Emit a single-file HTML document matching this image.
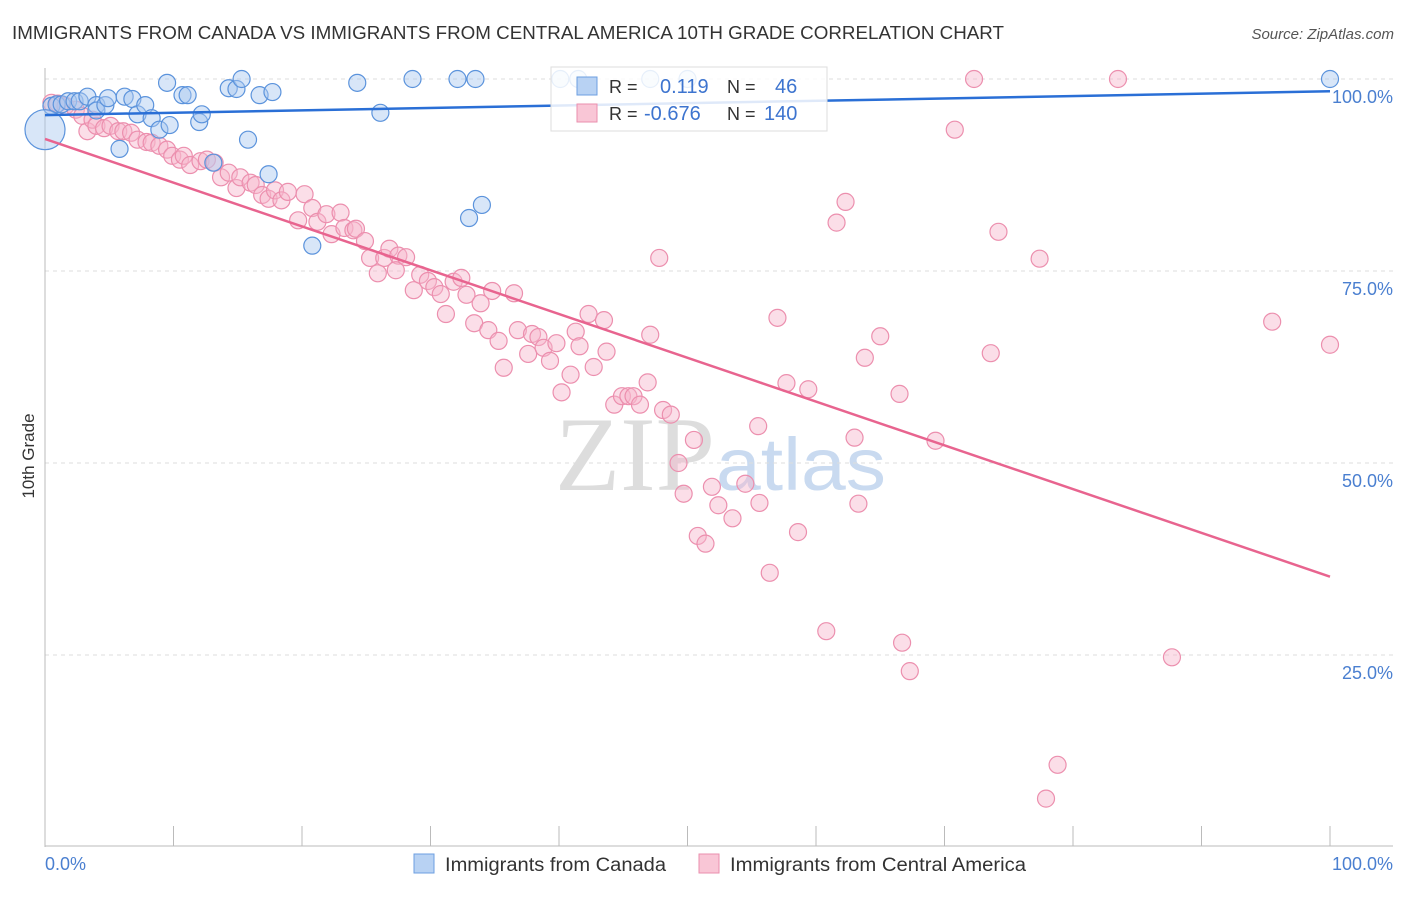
<!DOCTYPE html>
<html><head><meta charset="utf-8"><style>
body{margin:0;background:#fff;font-family:"Liberation Sans",sans-serif}
</style></head><body>
<svg width="1406" height="892" xmlns="http://www.w3.org/2000/svg" id="svg">
<text x="12" y="39" font-size="18" fill="#333" textLength="992" lengthAdjust="spacingAndGlyphs">IMMIGRANTS FROM CANADA VS IMMIGRANTS FROM CENTRAL AMERICA 10TH GRADE CORRELATION CHART</text>
<text x="1394" y="39" font-size="15" fill="#555" font-style="italic" text-anchor="end">Source: ZipAtlas.com</text>
<text x="555" y="490" font-size="106" fill="#ddd" font-family="Liberation Serif,serif" textLength="160" lengthAdjust="spacingAndGlyphs">ZIP</text>
<text x="716" y="490" font-size="74" fill="#c9daf0" textLength="170" lengthAdjust="spacingAndGlyphs">atlas</text>
<g id="grid"></g>
<line x1="45" y1="68" x2="45" y2="847" stroke="#bbb"/>
<line x1="45" y1="846" x2="1393" y2="846" stroke="#bbb"/>
<text transform="translate(34,456) rotate(-90)" font-size="17" fill="#333" text-anchor="middle">10th Grade</text>
<text x="45" y="870" font-size="18" fill="#4a7fd0">0.0%</text>
<text x="1393" y="870" font-size="18" fill="#4a7fd0" text-anchor="end">100.0%</text>
<g id="pts"></g>
<g id="lines"></g>
<g>
<rect x="551" y="67" width="276" height="64" fill="#fff" fill-opacity="0.85" stroke="#ddd"/>
<rect x="577" y="77" width="20" height="18" fill="#b8d2f3" stroke="#6d9fe0"/>
<rect x="577" y="104" width="20" height="18" fill="#f9c6d6" stroke="#ea8fae"/>
<text x="609" y="93" font-size="18" fill="#333">R = </text><text x="660" y="93" font-size="20" fill="#3d74cf">0.119</text>
<text x="727" y="93" font-size="18" fill="#333">N = </text><text x="775" y="93" font-size="20" fill="#3d74cf">46</text>
<text x="609" y="120" font-size="18" fill="#333">R = </text><text x="644" y="120" font-size="20" fill="#3d74cf">-0.676</text>
<text x="727" y="120" font-size="18" fill="#333">N = </text><text x="764" y="120" font-size="20" fill="#3d74cf">140</text>
</g>
<g>
<rect x="414" y="854" width="20" height="19" fill="#b8d2f3" stroke="#6d9fe0"/>
<text x="445" y="871" font-size="19" fill="#333" textLength="221" lengthAdjust="spacingAndGlyphs">Immigrants from Canada</text>
<rect x="699" y="854" width="20" height="19" fill="#f9c6d6" stroke="#ea8fae"/>
<text x="730" y="871" font-size="19" fill="#333" textLength="296" lengthAdjust="spacingAndGlyphs">Immigrants from Central America</text>
</g>
</svg>
<script>
const yTicks=[25,50,75,100];
const yTickLabels=["25.0%","50.0%","75.0%","100.0%"];
const xTicks=[0,10,20,30,40,50,60,70,80,90,100];
const blueX=[0.5,0.9,1.3,1.8,2.3,2.7,3.3,4.0,4.0,4.7,4.9,5.8,6.2,6.8,7.2,7.8,8.3,8.9,9.5,9.7,10.7,11.1,12.0,12.2,13.1,14.3,14.9,15.3,15.8,16.7,17.4,17.7,20.8,24.3,26.1,28.6,32.1,33.5,33.0,34.0,40.1,41.5,47.1,50.0,100];
const blueY=[96.5,96.7,96.7,97.1,97.1,97.1,97.7,96.6,95.9,96.6,97.5,90.9,97.7,97.4,95.4,96.6,94.9,93.4,99.5,94.0,97.9,97.9,94.4,95.4,89.1,98.8,98.7,100,92.1,97.9,87.6,98.3,78.3,99.5,95.6,100,100,100,81.9,83.6,100,100,100,100,100];
const pinkX=[0.5,1.0,1.6,2.4,3.3,2.9,3.7,4.0,4.6,5.1,5.7,6.1,6.7,7.2,7.9,8.3,8.9,9.5,9.9,10.5,10.8,11.3,12.1,12.6,13.2,13.7,14.3,14.9,15.2,16.0,16.4,16.9,17.4,17.9,18.4,18.9,19.7,20.2,20.8,21.2,21.9,22.3,23.0,23.3,24.0,24.2,24.9,25.3,25.9,26.4,26.8,27.5,27.3,28.1,28.7,29.2,29.8,30.3,30.8,31.2,31.8,32.4,32.8,33.4,33.9,34.5,34.8,35.3,35.7,36.5,36.8,37.6,37.9,38.4,38.8,39.3,39.8,40.2,40.9,41.3,41.6,42.3,42.7,43.5,43.7,44.3,44.9,45.4,45.8,46.3,46.9,47.1,47.8,48.1,48.7,49.3,49.7,50.5,50.8,51.4,51.9,52.4,53.5,54.5,55.5,55.6,56.4,57.0,57.7,58.6,59.4,60.8,61.6,62.3,63.0,63.3,63.8,65.0,66.5,66.7,67.3,69.3,70.8,72.3,73.6,74.2,77.4,77.9,78.8,83.5,87.7,95.5,100];
const pinkY=[96.9,96.8,96.5,96.0,93.2,95.2,94.7,93.9,93.6,93.9,93.2,93.2,93.0,92.1,91.8,91.7,91.3,90.8,90.0,89.5,90.0,88.8,89.3,89.5,89.1,87.2,87.8,85.8,87.2,86.5,86.2,84.9,84.4,85.5,84.2,85.3,81.6,85.0,83.2,81.4,82.4,79.8,82.6,80.6,80.3,80.5,78.9,76.7,74.7,76.7,77.9,77.0,75.1,76.8,72.5,74.5,73.7,72.9,72.0,69.4,73.6,74.1,71.9,68.2,70.8,67.3,72.4,65.9,62.4,72.1,67.3,64.2,66.8,66.4,65.0,63.3,65.6,59.2,61.5,67.1,65.2,69.4,62.5,68.6,64.5,57.6,58.7,58.7,58.7,57.6,60.5,66.7,76.7,56.9,56.3,50.0,46.0,53.0,40.5,39.5,46.9,44.5,42.8,47.3,54.8,44.8,35.7,68.9,60.4,41.0,59.6,28.1,81.3,84.0,53.3,44.7,63.7,66.5,59.0,26.6,22.9,52.9,93.4,100,64.3,80.1,76.6,6.3,10.7,100,24.7,68.4,65.4];
const blueTrend=[95.3,98.4];
const pinkTrend=[92.2,35.2];
const sx=v=>45+v*12.85, sy=v=>847-v*7.68;
const NS="http://www.w3.org/2000/svg";
const grid=document.getElementById('grid'),pts=document.getElementById('pts'),lines=document.getElementById('lines');
yTicks.forEach((t,i)=>{
 const l=document.createElementNS(NS,'line');
 l.setAttribute('x1',45);l.setAttribute('x2',1393);l.setAttribute('y1',sy(t));l.setAttribute('y2',sy(t));
 l.setAttribute('stroke','#ddd');l.setAttribute('stroke-dasharray','4,4');
 
 
 grid.appendChild(l);
 const tx=document.createElementNS(NS,'text');
 tx.setAttribute('x',1393);tx.setAttribute('y',sy(t)+24);tx.setAttribute('text-anchor','end');
 tx.setAttribute('font-size','18');tx.setAttribute('fill','#4a7fd0');tx.textContent=yTickLabels[i];
 
 
 grid.appendChild(tx);
});
xTicks.forEach(t=>{
 const l=document.createElementNS(NS,'line');
 l.setAttribute('x1',sx(t));l.setAttribute('x2',sx(t));l.setAttribute('y1',826);l.setAttribute('y2',846);
 l.setAttribute('stroke','#bbb');
 
 
 grid.appendChild(l);
});
function dot(x,y,r,fill,stroke,name){
 const c=document.createElementNS(NS,'circle');
 c.setAttribute('cx',sx(x));c.setAttribute('cy',sy(y));c.setAttribute('r',r);
 c.setAttribute('fill',fill);c.setAttribute('fill-opacity','0.45');c.setAttribute('stroke',stroke);c.setAttribute('stroke-width','1.2');
 
 
 pts.appendChild(c);
}
pinkX.forEach((x,i)=>dot(x,pinkY[i],8.5,'#f7b6cb','#ec8fae','point-central-america'));
blueX.forEach((x,i)=>dot(x,blueY[i],8.5,'#a9c8ef','#5b93dc','point-canada'));
dot(0,93.4,20,'#a9c8ef','#5b93dc','point-canada-large');
function trend(v,col,name){
 const l=document.createElementNS(NS,'line');
 l.setAttribute('x1',sx(0));l.setAttribute('x2',sx(100));l.setAttribute('y1',sy(v[0]));l.setAttribute('y2',sy(v[1]));
 l.setAttribute('stroke',col);l.setAttribute('stroke-width','2.5');
 
 
 lines.appendChild(l);
}
trend(blueTrend,'#2a6fd6','trend-line-canada');
trend(pinkTrend,'#e8648f','trend-line-central-america');
</script>
</body></html>
